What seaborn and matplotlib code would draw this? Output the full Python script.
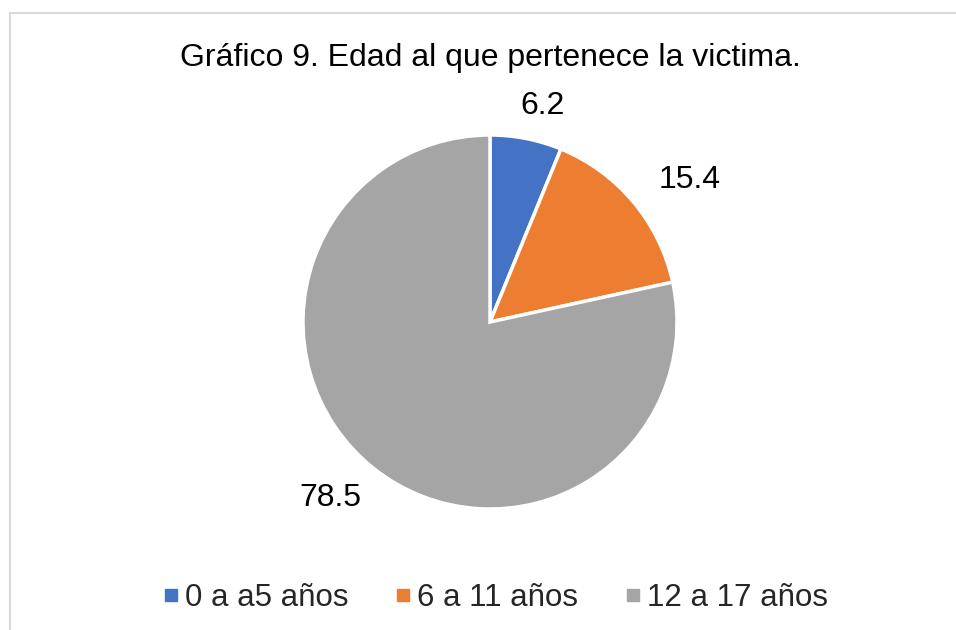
import numpy as np
import matplotlib
matplotlib.use("Agg")
import matplotlib.pyplot as plt
import seaborn as sns
from matplotlib.patches import Rectangle
from matplotlib.lines import Line2D

categories = ["0 a a5 años", "6 a 11 años", "12 a 17 años"]
values = [6.2, 15.4, 78.5]
value_labels = ["6.2", "15.4", "78.5"]
title = "Gráfico 9. Edad al que pertenece la victima."

sns.set_theme(style="white")
plt.rcParams['font.family'] = ['Liberation Sans', 'DejaVu Sans']
colors = sns.color_palette(["#4472C4", "#ED7D31", "#A5A5A5"])

fig = plt.figure(figsize=(9.56, 6.3), dpi=100)
# chart border (cropped at right/bottom like the reference)
fig.patches.append(Rectangle((9.5/956, -0.1), 2.0, (630-13)/630 + 0.1, transform=fig.transFigure,
                             fill=False, edgecolor="#D9D9D9", linewidth=1.5))

R = 187
cx, cy = 490, 322
ax = fig.add_axes([(cx - R) / 956, (630 - cy - R) / 630, 2 * R / 956, 2 * R / 630])
wedges, _ = ax.pie(values, colors=colors, startangle=90, counterclock=False,
                   wedgeprops=dict(edgecolor="white", linewidth=2.5), radius=1)
ax.set_xlim(-1, 1)
ax.set_ylim(-1, 1)
ax.set_aspect("equal")

# label placement (layout offsets)
dist = [1.19, 1.31, 1.27]
ang_off = [-2.5, -4.6, -3.3]
for w, lab, d, o in zip(wedges, value_labels, dist, ang_off):
    mid = np.deg2rad((w.theta1 + w.theta2) / 2 + o)
    ax.text(d * np.cos(mid), d * np.sin(mid), lab, ha="center", va="center",
            fontsize=23, color="#000000", clip_on=False)

fig.text(490 / 956, 1 - 58 / 630, title, ha="center", va="center", fontsize=23, color="#000000")

handles = [Line2D([0], [0], marker="s", linestyle="", markersize=8, markerfacecolor=c,
                  markeredgecolor=c) for c in colors]
fig.legend(handles, categories, loc="center", bbox_to_anchor=(494 / 956, 1 - 598 / 630),
           ncol=3, frameon=False, fontsize=22.5, handletextpad=0.1, columnspacing=1.4,
           handlelength=0.7)

fig.savefig("out.png", dpi=100)
